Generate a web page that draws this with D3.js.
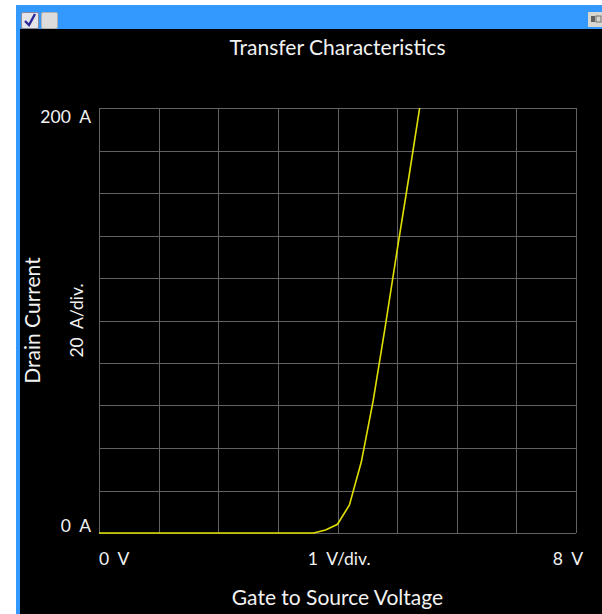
<!DOCTYPE html>
<html>
<head>
<meta charset="utf-8">
<script src="https://cdn.jsdelivr.net/npm/d3@7"></script>
<style>
  html, body { margin: 0; padding: 0; background: #ffffff; }
  svg { display: block; }
  text { font-family: Lato, "Open Sans", sans-serif; fill: #f2f2f2; }
</style>
</head>
<body>
<svg id="chart" width="602" height="614"></svg>
<script>
// ---- data ----
const title = "Transfer Characteristics";
const xTitle = "Gate to Source Voltage";
const yTitle = "Drain Current";
const gateVoltage = [0, 1, 2, 3, 3.4, 3.6, 3.8, 4.0, 4.2, 4.4, 4.6, 4.8, 5.0, 5.2, 5.4];
const drainCurrent = [0, 0, 0, 0, 0, 0, 1.4, 4.1, 13.2, 33.5, 62.5, 97, 133, 168, 204];
const xDomain = [0, 8];
const yDomain = [0, 200];
const xGridValues = [0, 1, 2, 3, 4, 5, 6, 7, 8];
const yGridValues = [0, 20, 40, 60, 80, 100, 120, 140, 160, 180, 200];
const xTickLabels = ["0\u00a0\u00a0V", "1\u00a0\u00a0V/div.", "8\u00a0\u00a0V"];
const yTickLabels = ["200\u00a0\u00a0A", "0\u00a0\u00a0A"];
const yDivLabel = "20\u00a0\u00a0A/div.";

// ---- layout ----
const svg = d3.select("#chart");
const plot = { left: 99, right: 576, top: 108, bottom: 533 };

// window frame
svg.append("rect").attr("x", 16).attr("y", 5).attr("width", 586).attr("height", 609).attr("fill", "#3399ff");
svg.append("rect").attr("x", 20).attr("y", 29).attr("width", 582).attr("height", 585).attr("fill", "#000000");

// checkboxes
const cb = svg.append("g");
cb.append("rect").attr("x", 21.5).attr("y", 12.5).attr("width", 17).attr("height", 16).attr("rx", 1.5)
  .attr("fill", "#e4e4ea").attr("stroke", "#8a8a9a");
cb.append("path").attr("d", "M25,21 L29,25 L35,14").attr("fill", "none").attr("stroke", "#2a2a9a").attr("stroke-width", 2.4);
cb.append("rect").attr("x", 41.5).attr("y", 12.5).attr("width", 16).attr("height", 16).attr("rx", 1.5)
  .attr("fill", "#dcdcdc").attr("stroke", "#b0b0b0");
// top-right icon
cb.append("rect").attr("x", 588).attr("y", 12).attr("width", 14).attr("height", 15).attr("fill", "#d8d8d0");
cb.append("rect").attr("x", 591).attr("y", 16).attr("width", 4).attr("height", 6).attr("fill", "#606060");
cb.append("rect").attr("x", 596).attr("y", 16).attr("width", 5).attr("height", 6).attr("fill", "none").attr("stroke", "#707070").attr("stroke-width", 1);

const x = d3.scaleLinear().domain(xDomain).range([plot.left, plot.right]);
const y = d3.scaleLinear().domain(yDomain).range([plot.bottom, plot.top]);

// grid
const grid = svg.append("g").attr("stroke", "#626262").attr("stroke-width", 1);
grid.selectAll("line.v").data(xGridValues).join("line").attr("class", "v")
  .attr("x1", d => Math.round(x(d)) + 0.5).attr("x2", d => Math.round(x(d)) + 0.5)
  .attr("y1", plot.top).attr("y2", plot.bottom);
grid.selectAll("line.h").data(yGridValues).join("line").attr("class", "h")
  .attr("y1", d => Math.round(y(d)) + 0.5).attr("y2", d => Math.round(y(d)) + 0.5)
  .attr("x1", plot.left).attr("x2", plot.right);

// curve
svg.append("clipPath").attr("id", "clip").append("rect")
  .attr("x", plot.left).attr("y", plot.top).attr("width", plot.right - plot.left).attr("height", plot.bottom - plot.top + 2);
const pts = gateVoltage.map((v, i) => [v, drainCurrent[i]]);
svg.append("path").datum(pts)
  .attr("clip-path", "url(#clip)")
  .attr("fill", "none").attr("stroke", "#e0e000").attr("stroke-width", 1.6)
  .attr("d", d3.line().x(d => x(d[0])).y(d => y(d[1])));

// titles
svg.append("text").attr("x", (plot.left + plot.right) / 2).attr("y", 55)
  .attr("text-anchor", "middle").attr("font-size", 21).text(title);
svg.append("text").attr("x", (plot.left + plot.right) / 2).attr("y", 605)
  .attr("text-anchor", "middle").attr("font-size", 21).text(xTitle);
svg.append("text").attr("transform", `translate(40,${(plot.top + plot.bottom) / 2}) rotate(-90)`)
  .attr("text-anchor", "middle").attr("font-size", 21).text(yTitle);
svg.append("text").attr("transform", `translate(83,${(plot.top + plot.bottom) / 2}) rotate(-90)`)
  .attr("text-anchor", "middle").attr("font-size", 17.5).text(yDivLabel);

// x tick labels
const xl = svg.append("g").attr("font-size", 17.5);
xl.append("text").attr("x", x(0)).attr("y", 565).attr("text-anchor", "start").text(xTickLabels[0]);
xl.append("text").attr("x", x(3.5)).attr("y", 565).attr("text-anchor", "start").text(xTickLabels[1]);
xl.append("text").attr("x", x(8) + 7).attr("y", 565).attr("text-anchor", "end").text(xTickLabels[2]);

// y tick labels
const yl = svg.append("g").attr("font-size", 17.5);
yl.append("text").attr("x", plot.left - 8).attr("y", y(200) + 15).attr("text-anchor", "end").text(yTickLabels[0]);
yl.append("text").attr("x", plot.left - 8).attr("y", y(0) - 1).attr("text-anchor", "end").text(yTickLabels[1]);
</script>
</body>
</html>
